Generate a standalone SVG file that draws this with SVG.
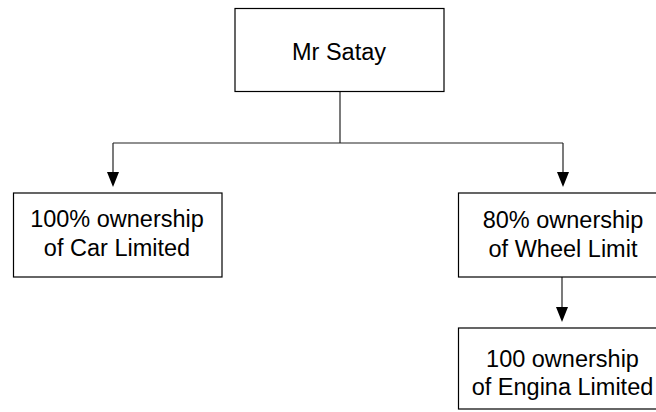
<svg xmlns="http://www.w3.org/2000/svg" width="656" height="412" viewBox="0 0 656 412">
  <style>
    .box { fill: #ffffff; stroke: #000000; stroke-width: 1.2; }
    .label { font-family: "Liberation Sans", Arial, sans-serif; font-size: 23.5px; fill: #000000; text-anchor: middle; }
    .wire { fill: none; stroke: #222222; stroke-width: 1.2; }
  </style>
  <defs>
    <marker id="arrow" viewBox="0 0 12 15" refX="6" refY="15" markerWidth="12" markerHeight="15" markerUnits="userSpaceOnUse" orient="auto-start-reverse">
      <path d="M0,0 L12,0 L6,15 Z" fill="#000000"/>
    </marker>
  </defs>
  <rect width="656" height="412" fill="#ffffff"/>

  <g id="connectors">
    <path class="wire" d="M340,92 V143"/>
    <path class="wire" d="M113,143 H563"/>
    <path class="wire" d="M113,143 V172"/>
    <path d="M107,172 L119,172 L113,187 Z" fill="#000000"/>
    <path class="wire" d="M563,143 V172"/>
    <path d="M557,172 L569,172 L563,187 Z" fill="#000000"/>
    <path class="wire" d="M562,277 V307"/>
    <path d="M556,307 L568,307 L562,322 Z" fill="#000000"/>
  </g>

  <g id="mr-satay">
    <rect class="box" x="235" y="8.5" width="209" height="83"/>
    <text class="label" x="339" y="59.5">Mr Satay</text>
  </g>

  <g id="car-limited">
    <rect class="box" x="13.5" y="193" width="208.5" height="84"/>
    <text class="label" x="117" y="227">100% ownership</text>
    <text class="label" x="117" y="256">of Car Limited</text>
  </g>

  <g id="wheel-limit">
    <rect class="box" x="458.5" y="193" width="208" height="84"/>
    <text class="label" x="563" y="228">80% ownership</text>
    <text class="label" x="563" y="257">of Wheel Limit</text>
  </g>

  <g id="engina-limited">
    <rect class="box" x="458.5" y="328" width="208" height="81"/>
    <text class="label" x="562.5" y="366.5">100 ownership</text>
    <text class="label" x="562.5" y="395">of Engina Limited</text>
  </g>
</svg>
